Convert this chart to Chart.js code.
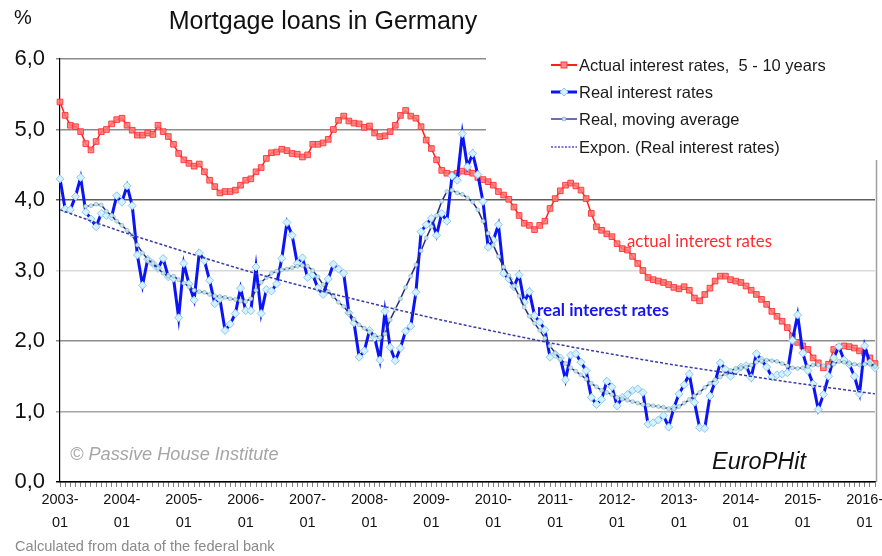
<!DOCTYPE html>
<html><head><meta charset="utf-8">
<script src="https://cdn.jsdelivr.net/npm/chart.js@4.4.1/dist/chart.umd.min.js"></script>
<style>html,body{margin:0;padding:0;background:#fff;}#wrap{position:relative;width:882px;height:556px;}</style>
</head><body><div id="wrap"><canvas id="c" width="882" height="556"></canvas></div>
<script>
// ---- categories ----
const startYear = 2003;
const pointCount = 159; // 2003-01 .. 2016-03
const months = [];
for (let k = 0; k < pointCount; k++) {
  const y = startYear + Math.floor(k / 12), m = (k % 12) + 1;
  months.push(y + '-' + (m < 10 ? '0' + m : m));
}
const yTicks = [0, 1, 2, 3, 4, 5, 6];

// ---- series ----
const actualRates = [
  5.39,5.20,5.06,5.04,4.97,4.80,4.71,4.83,4.97,5.00,
  5.08,5.14,5.16,5.06,4.99,4.92,4.92,4.95,4.93,5.06,
  4.97,4.90,4.79,4.66,4.57,4.52,4.48,4.51,4.40,4.28,
  4.19,4.10,4.12,4.12,4.14,4.21,4.28,4.30,4.40,4.46,
  4.59,4.67,4.68,4.72,4.70,4.66,4.65,4.61,4.64,4.79,
  4.79,4.81,4.86,5.00,5.13,5.19,5.12,5.09,5.08,5.03,
  5.05,4.95,4.90,4.91,4.97,5.06,5.20,5.27,5.19,5.16,
  5.04,4.85,4.73,4.57,4.42,4.38,4.36,4.38,4.41,4.40,
  4.38,4.32,4.29,4.26,4.21,4.12,4.07,4.01,3.90,3.78,
  3.67,3.64,3.58,3.64,3.70,3.88,4.02,4.13,4.21,4.24,
  4.20,4.14,4.02,3.81,3.62,3.57,3.52,3.48,3.38,3.31,
  3.29,3.20,3.10,3.00,2.90,2.87,2.85,2.83,2.80,2.76,
  2.74,2.77,2.72,2.61,2.57,2.66,2.75,2.85,2.92,2.92,
  2.87,2.85,2.83,2.78,2.72,2.66,2.59,2.52,2.42,2.35,
  2.28,2.19,2.07,1.98,1.93,1.88,1.76,1.69,1.62,1.67,
  1.88,1.91,1.93,1.92,1.90,1.86,1.83,1.76,1.68
];
const realRates = [
  4.30,3.87,3.86,4.05,4.32,3.83,3.73,3.62,3.81,3.78,
  3.76,4.06,3.97,4.20,3.92,3.22,2.79,3.16,3.10,3.03,
  3.17,2.91,2.89,2.33,3.10,2.81,2.58,3.25,3.14,2.86,
  2.53,2.60,2.15,2.24,2.39,2.75,2.43,2.43,3.05,2.39,
  2.73,2.71,2.81,3.17,3.68,3.50,3.10,3.18,2.90,2.94,
  2.75,2.66,2.88,3.09,3.02,2.96,2.40,2.26,1.77,1.86,
  2.15,2.05,1.73,2.42,1.91,1.72,1.90,2.14,2.21,2.69,
  3.55,3.65,3.74,3.50,3.81,3.70,4.34,4.28,4.94,4.47,
  4.66,4.36,3.98,3.33,3.43,3.65,2.96,2.88,2.77,2.94,
  2.55,2.70,2.36,2.27,2.16,1.77,1.81,1.76,1.45,1.80,
  1.82,1.70,1.58,1.20,1.10,1.17,1.43,1.35,1.08,1.20,
  1.24,1.30,1.32,1.27,0.82,0.84,0.88,0.94,0.78,1.05,
  1.25,1.38,1.53,1.13,0.77,0.76,1.22,1.42,1.69,1.60,
  1.50,1.58,1.63,1.65,1.48,1.82,1.73,1.63,1.49,1.52,
  1.53,1.55,2.01,2.37,1.83,1.58,1.39,1.03,1.24,1.50,
  1.76,1.92,1.73,1.67,1.50,1.25,1.93,1.69,1.62
];
const movingAverage = [
  null,null,null,null,null,3.91,3.92,3.94,3.93,3.84,
  3.78,3.70,3.64,3.57,3.50,3.36,3.25,3.16,3.10,3.03,
  2.96,2.92,2.92,2.87,2.82,2.77,2.72,2.70,2.69,2.66,
  2.64,2.63,2.62,2.60,2.59,2.57,2.56,2.60,2.72,2.83,
  2.90,2.96,2.99,3.01,3.02,3.04,3.06,3.07,3.06,3.00,
  2.91,2.80,2.70,2.63,2.55,2.49,2.40,2.31,2.23,2.18,
  2.13,2.08,2.05,2.10,2.30,2.45,2.60,2.76,2.92,3.08,
  3.28,3.46,3.62,3.78,3.98,4.12,4.14,4.10,4.08,4.03,
  3.97,3.86,3.70,3.53,3.36,3.20,3.05,2.93,2.78,2.64,
  2.48,2.35,2.25,2.15,2.04,1.93,1.83,1.74,1.68,1.62,
  1.57,1.52,1.46,1.40,1.35,1.30,1.27,1.24,1.20,1.18,
  1.16,1.14,1.12,1.10,1.09,1.08,1.07,1.06,1.04,1.04,
  1.07,1.12,1.17,1.22,1.27,1.34,1.40,1.45,1.49,1.54,
  1.58,1.61,1.62,1.63,1.66,1.70,1.72,1.73,1.72,1.71,
  1.68,1.65,1.62,1.61,1.62,1.64,1.66,1.66,1.65,1.64,
  1.67,1.71,1.70,1.68,1.67,1.66,1.67,1.68,1.64
];
// exponential trend line, read at each January (and the last month)
const trendMonths = ['2003-01','2004-01','2005-01','2006-01','2007-01','2008-01','2009-01','2010-01','2011-01','2012-01','2013-01','2014-01','2015-01','2016-01','2016-03'];
const trendValues = [3.86,3.55,3.27,3.00,2.76,2.54,2.33,2.14,1.96,1.80,1.65,1.52,1.39,1.27,1.25];

const legendLabels = ['Actual interest rates,  5 - 10 years', 'Real interest rates', 'Real, moving average', 'Expon. (Real interest rates)'];

const trendData = months.map(m => { const k = trendMonths.indexOf(m); return k >= 0 ? trendValues[k] : null; });

const FONT = '"Liberation Sans", Arial, sans-serif';
const RED = '#ff1f1f', BLUE = '#0a14f5', MA_COL = '#2b2b86', TREND_COL = '#3c3ca8';

const gridColors = {0:'#000000',1:'#a6a6a6',2:'#8c8c8c',3:'#d9d9d9',4:'#5e5e5e',5:'#8c8c8c',6:'#8c8c8c'};

const overlay = {
  id: 'overlay',
  beforeDatasetsDraw(chart) {
    const ctx = chart.ctx, a = chart.chartArea;
    ctx.save();
    ctx.strokeStyle = '#a0a0a0'; ctx.lineWidth = 1.5;
    ctx.beginPath(); ctx.moveTo(a.right + 1.5, 160); ctx.lineTo(a.right + 1.5, a.bottom); ctx.stroke();
    ctx.fillStyle = '#fff';
    ctx.fillRect(486, 42, 396, 118);
    ctx.restore();
  },
  afterDraw(chart) {
    const ctx = chart.ctx;
    ctx.save();
    ctx.fillStyle = '#111';
    ctx.font = '25px ' + FONT; ctx.textAlign = 'center'; ctx.textBaseline = 'middle';
    ctx.fillText('Mortgage loans in Germany', 323, 22);
    ctx.font = '20px ' + FONT; ctx.textAlign = 'left';
    ctx.fillText('%', 14, 18);
    // legend
    const rows = [65, 92, 119, 147];
    const x0 = 551, x1 = 577, xm = 564;
    ctx.lineCap = 'butt';
    ctx.strokeStyle = RED; ctx.lineWidth = 2;
    ctx.beginPath(); ctx.moveTo(x0, rows[0]); ctx.lineTo(x1, rows[0]); ctx.stroke();
    ctx.fillStyle = '#ff8a8a'; ctx.strokeStyle = '#ff3b3b'; ctx.lineWidth = 1;
    ctx.fillRect(xm - 3, rows[0] - 3, 6, 6); ctx.strokeRect(xm - 3, rows[0] - 3, 6, 6);
    ctx.strokeStyle = BLUE; ctx.lineWidth = 3;
    ctx.beginPath(); ctx.moveTo(x0, rows[1]); ctx.lineTo(x1, rows[1]); ctx.stroke();
    ctx.fillStyle = '#d4f1ff'; ctx.strokeStyle = '#8cc8f0'; ctx.lineWidth = 1;
    ctx.beginPath(); ctx.moveTo(xm - 4, rows[1]); ctx.lineTo(xm, rows[1] - 4); ctx.lineTo(xm + 4, rows[1]); ctx.lineTo(xm, rows[1] + 4); ctx.closePath(); ctx.fill(); ctx.stroke();
    ctx.strokeStyle = '#3a3aa0'; ctx.lineWidth = 1.5;
    ctx.beginPath(); ctx.moveTo(x0, rows[2]); ctx.lineTo(x1, rows[2]); ctx.stroke();
    ctx.fillStyle = '#bfe6f0'; ctx.strokeStyle = '#7fa8b8'; ctx.lineWidth = 0.7;
    ctx.beginPath(); ctx.arc(xm, rows[2], 2, 0, Math.PI * 2); ctx.fill(); ctx.stroke();
    ctx.strokeStyle = '#5050c0'; ctx.lineWidth = 1.5; ctx.setLineDash([2, 1.5]);
    ctx.beginPath(); ctx.moveTo(x0, rows[3]); ctx.lineTo(x1, rows[3]); ctx.stroke();
    ctx.setLineDash([]);
    ctx.fillStyle = '#1a1a1a'; ctx.font = '16.5px ' + FONT; ctx.textAlign = 'left'; ctx.textBaseline = 'middle';
    legendLabels.forEach((t, i) => ctx.fillText(t, 579, rows[i] + 1));
    // annotations
    ctx.fillStyle = '#ff2a2a'; ctx.font = '16.8px Lato, "Open Sans", sans-serif';
    ctx.fillText('actual interest rates', 627, 242);
    ctx.fillStyle = '#1515ee'; ctx.font = 'bold 17px Lato, "Open Sans", sans-serif';
    ctx.fillText('real interest rates', 537, 311);
    ctx.fillStyle = '#a6a6a6'; ctx.font = 'italic 18.2px ' + FONT;
    ctx.fillText('\u00A9 Passive House Institute', 70, 455);
    ctx.fillStyle = '#111'; ctx.font = 'italic 23.5px ' + FONT;
    ctx.fillText('EuroPHit', 712, 462);
    ctx.fillStyle = '#8a8a8a'; ctx.font = '14.6px ' + FONT;
    ctx.fillText('Calculated from data of the federal bank', 15, 547);
    ctx.restore();
  }
};

new Chart(document.getElementById('c'), {
  type: 'line',
  data: {
    labels: months,
    datasets: [
      { label: legendLabels[0], data: actualRates, order: 4, borderColor: RED, borderWidth: 1.5,
        pointStyle: 'rect', pointRadius: 4, pointBackgroundColor: 'rgba(255,120,120,0.85)', pointBorderColor: 'rgba(255,50,50,0.9)', pointBorderWidth: 1, tension: 0 },
      { label: legendLabels[1], data: realRates, order: 3, borderColor: BLUE, borderWidth: 3,
        pointStyle: 'rectRot', pointRadius: 4, pointBackgroundColor: '#d4f1ff', pointBorderColor: '#8cc8f0', pointBorderWidth: 1, tension: 0 },
      { label: legendLabels[2], data: movingAverage, order: 2, borderColor: MA_COL, borderWidth: 1.5,
        pointStyle: 'circle', pointRadius: 2, pointBackgroundColor: '#c2e6ee', pointBorderColor: '#86aebb', pointBorderWidth: 0.6, tension: 0, spanGaps: false },
      { label: legendLabels[3], data: trendData, order: 1, borderColor: TREND_COL, borderWidth: 1.5, borderDash: [3, 2],
        pointRadius: 0, spanGaps: true, tension: 0.4, cubicInterpolationMode: 'monotone' }
    ]
  },
  options: {
    responsive: false, animation: false,
    layout: { padding: { top: 59, right: 7, left: 0, bottom: 0 } },
    plugins: { legend: { display: false }, tooltip: { enabled: false }, title: { display: false } },
    scales: {
      x: {
        type: 'category', offset: false,
        border: { display: true, color: '#000', width: 1.2 },
        grid: { drawOnChartArea: false, drawTicks: true, tickLength: 5, color: '#808080', lineWidth: 1, offset: false },
        ticks: {
          autoSkip: false, maxRotation: 0, minRotation: 0, padding: 2, color: '#111',
          font: { family: FONT, size: 14.5, lineHeight: 1.55 },
          callback: (v, i) => months[i].endsWith('-01') ? [months[i].slice(0, 4) + '-', '01'] : ''
        },
        afterFit: s => { s.height = 74; }
      },
      y: {
        min: 0, max: 6,
        border: { display: true, color: '#000', width: 1.2 },
        grid: { drawTicks: true, tickLength: 4, lineWidth: 1.5, color: c => gridColors[c.tick.value] || '#999' },
        ticks: { stepSize: 1, padding: 11, color: '#111', font: { family: FONT, size: 22 },
          callback: v => yTicks.includes(v) ? v.toFixed(1).replace('.', ',') : '' },
        afterFit: s => { s.width = 60; }
      }
    }
  },
  plugins: [overlay]
});
</script></body></html>
